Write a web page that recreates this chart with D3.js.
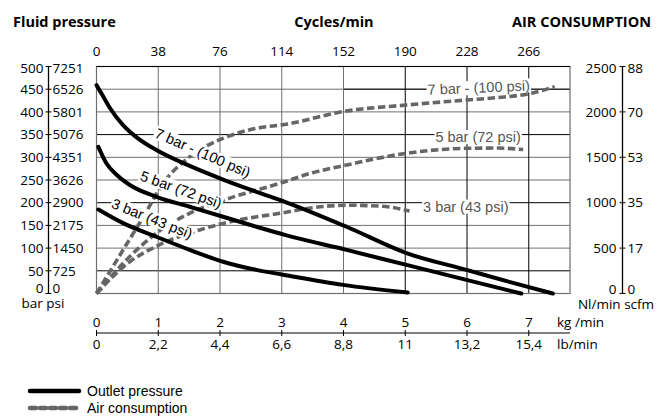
<!DOCTYPE html>
<html><head><meta charset="utf-8">
<script src="https://cdn.jsdelivr.net/npm/d3@7"></script>
<style>
body{margin:0;background:#fff}
svg{display:block}
text{font-family:"Open Sans",sans-serif}
</style></head>
<body><svg id="c" width="665" height="417"></svg>
<script>
// ---- data ----
const kgTicks = [0,1,2,3,4,5,6,7];
const lbLabels = ["0","2,2","4,4","6,6","8,8","11","13,2","15,4"];
const cycleLabels = ["0","38","76","114","152","190","228","266"];
const barTicks = [0,50,100,150,200,250,300,350,400,450,500];
const psiLabels = ["0","725","1450","2175","2900","3626","4351","5076","5801","6526","7251"];
const nlTicks = [0,500,1000,1500,2000,2500];
const scfmLabels = ["0","17","35","53","70","88"];

// outlet pressure [kg/min, bar]
const out7 = [[0,459],[0.1,436],[0.22,408],[0.43,371],[0.65,344],[0.97,316],[1.51,281],[2.05,251],[2.59,224],[3.05,202],[4.05,147],[5.02,89],[5.99,52],[6.7,25],[7.39,0]];
const out5 = [[0.03,323],[0.16,287],[0.33,261],[0.54,239],[0.97,213],[1.51,191],[2.05,169],[2.59,147],[3.05,129],[4.05,96],[5.02,63],[5.99,30],[6.88,0]];
const out3 = [[0.03,185],[0.43,155],[0.97,125],[1.51,96],[2.05,70],[2.59,52],[3.0,42],[3.99,19],[5.04,2]];
// air consumption [kg/min, Nl/min]
const air7 = [[0,0],[0.43,479],[0.76,846],[1.08,1214],[1.51,1507],[2.05,1709],[2.59,1819],[3.05,1862],[4.05,2010],[5.02,2076],[5.99,2131],[6.5,2158],[7.0,2200],[7.42,2278]];
const air5 = [[0,0],[0.5,380],[1.0,680],[1.5,880],[2.16,1050],[2.97,1214],[3.5,1330],[4.05,1415],[5.02,1544],[5.99,1599],[6.5,1602],[6.91,1585]];
const air3 = [[0,0],[0.5,330],[1.0,530],[1.67,700],[2.3,810],[2.97,883],[3.5,945],[4.05,972],[4.6,962],[5.07,909]];

const outLabels = [
  {text:"7 bar - (100 psi)", kg:1.72, bar:310, angle:23.6},
  {text:"5 bar (72 psi)", kg:1.37, bar:229, angle:19.7},
  {text:"3 bar (43 psi)", kg:0.90, bar:165, angle:21.6}
];
const airLabels = [
  {text:"7 bar - (100 psi)", kg:6.19, nl:2268, angle:-2.5},
  {text:"5 bar (72 psi)", kg:6.18, nl:1723, angle:0},
  {text:"3 bar (43 psi)", kg:5.98, nl:958, angle:0}
];

// ---- layout ----
const svg = d3.select("#c");
const L = 96.5, R = 570, T = 66.5, B = 293.5;
const x = d3.scaleLinear().domain([0, (R-L)/61.75]).range([L, R]);
const y = d3.scaleLinear().domain([0, 500]).range([B, T]);
const yAir = d3.scaleLinear().domain([0, 2500]).range([B, T]);
const FS = "13.5px";

const gray = "#6f6f6f";
// grid
const grid = svg.append("g");
barTicks.slice(1, -1).forEach(v => {
  const black = (v === 350 || v === 200 || v === 50);
  grid.append("line").attr("x1", L).attr("x2", R).attr("y1", y(v)).attr("y2", y(v))
    .attr("stroke", black ? "#000" : gray).attr("stroke-width", 1);
});
grid.append("line").attr("x1", x(4)).attr("x2", R).attr("y1", y(450)).attr("y2", y(450))
  .attr("stroke", "#000").attr("stroke-width", 1);
kgTicks.slice(1).forEach(v => {
  grid.append("line").attr("x1", x(v)).attr("x2", x(v)).attr("y1", T).attr("y2", B)
    .attr("stroke", v >= 5 ? "#000" : gray).attr("stroke-width", 1);
});
grid.append("rect").attr("x", L).attr("y", T).attr("width", R-L).attr("height", B-T)
  .attr("fill", "none").attr("stroke", gray).attr("stroke-width", 1.2);
grid.append("line").attr("x1", L).attr("x2", R).attr("y1", T).attr("y2", T).attr("stroke", "#000");

// curves
const line = d3.line().curve(d3.curveMonotoneX);
const curves = svg.append("g");
[air7, air5, air3].forEach(d => {
  curves.append("path").attr("d", line(d.map(p => [x(p[0]), yAir(p[1])])))
    .attr("fill", "none").attr("stroke", "#666").attr("stroke-width", 3.6)
    .attr("stroke-dasharray", "7.5,3.5");
});
[out7, out5, out3].forEach(d => {
  curves.append("path").attr("d", line(d.map(p => [x(p[0]), y(p[1])])))
    .attr("fill", "none").attr("stroke", "#000").attr("stroke-width", 4).attr("stroke-linecap", "round");
});

// curve labels with white backgrounds
function label(px, py, angle, txt, color) {
  const g = svg.append("g").attr("transform", `translate(${px},${py}) rotate(${angle})`);
  const t = g.append("text").attr("text-anchor", "middle").attr("dy", "0.35em")
    .style("font-family", "'Liberation Sans',Arial,sans-serif").style("font-size", "14.5px")
    .attr("fill", color).text(txt);
  const bb = t.node().getBBox();
  g.insert("rect", "text").attr("x", bb.x - 1).attr("y", bb.y + 1).attr("width", bb.width + 2).attr("height", bb.height - 2)
    .attr("fill", "#fff");
}
outLabels.forEach(l => label(x(l.kg), y(l.bar), l.angle, l.text, "#000"));
airLabels.forEach(l => label(x(l.kg), yAir(l.nl), l.angle, l.text, "#555"));

// top cycle labels
svg.append("g").selectAll("text").data(kgTicks).join("text")
  .attr("x", d => x(d)).attr("y", 56).attr("text-anchor", "middle")
  .style("font-size", FS).text((d, i) => cycleLabels[i]);

// left axis
const lx = 48.5;
const la = svg.append("g");
la.append("line").attr("x1", lx).attr("x2", lx).attr("y1", T).attr("y2", B).attr("stroke", "#000").attr("stroke-width", 1.3);
barTicks.forEach((v, i) => {
  const ly = y(v) + (v === 0 ? -5.5 : v === 500 ? 2 : 0);
  la.append("line").attr("x1", lx-3).attr("x2", lx+3).attr("y1", y(v)).attr("y2", y(v)).attr("stroke", "#000");
  la.append("text").attr("x", lx-5).attr("y", ly).attr("dy", "0.35em").attr("text-anchor", "end")
    .style("font-size", FS).text(v);
  la.append("text").attr("x", lx+4).attr("y", ly).attr("dy", "0.35em")
    .style("font-size", FS).text(psiLabels[i]);
});
la.append("text").attr("x", 43).attr("y", 303).attr("dy", "0.35em").attr("text-anchor", "middle")
  .style("font-size", FS).text("bar psi");

// right axis
const rx = 622.5;
const ra = svg.append("g");
ra.append("line").attr("x1", rx).attr("x2", rx).attr("y1", T).attr("y2", B).attr("stroke", "#000").attr("stroke-width", 1.3);
nlTicks.forEach((v, i) => {
  const ly = yAir(v) + (v === 0 ? -4.5 : v === 2500 ? 1.5 : 0);
  ra.append("line").attr("x1", rx-3).attr("x2", rx+3).attr("y1", yAir(v)).attr("y2", yAir(v)).attr("stroke", "#000");
  ra.append("text").attr("x", rx-6).attr("y", ly).attr("dy", "0.35em").attr("text-anchor", "end")
    .style("font-size", FS).text(v);
  ra.append("text").attr("x", rx+5).attr("y", ly).attr("dy", "0.35em")
    .style("font-size", FS).text(scfmLabels[i]);
});
ra.append("text").attr("x", 616).attr("y", 304).attr("dy", "0.35em").attr("text-anchor", "middle")
  .style("font-size", FS).text("Nl/min scfm");

// bottom axis
const by = 333;
const ba = svg.append("g");
ba.append("line").attr("x1", L).attr("x2", R).attr("y1", by).attr("y2", by).attr("stroke", "#000").attr("stroke-width", 1.2);
kgTicks.forEach((v, i) => {
  ba.append("line").attr("x1", x(v)).attr("x2", x(v)).attr("y1", by-3).attr("y2", by+3).attr("stroke", "#000");
  ba.append("text").attr("x", x(v)).attr("y", by-11).attr("dy", "0.35em").attr("text-anchor", "middle")
    .style("font-size", FS).text(v);
  ba.append("text").attr("x", x(v)).attr("y", by+11).attr("dy", "0.35em").attr("text-anchor", "middle")
    .style("font-size", FS).text(lbLabels[i]);
});
ba.append("text").attr("x", 557).attr("y", by-11).attr("dy", "0.35em").style("font-size", FS).text("kg /min");
ba.append("text").attr("x", 557).attr("y", by+11).attr("dy", "0.35em").style("font-size", FS).text("lb/min");

// titles
svg.append("text").attr("x", 13).attr("y", 27).style("font-size", "14.5px").style("font-weight", "bold").text("Fluid pressure");
svg.append("text").attr("x", 334).attr("y", 27).attr("text-anchor", "middle").style("font-size", "14.5px").style("font-weight", "bold").text("Cycles/min");
svg.append("text").attr("x", 651).attr("y", 27).attr("text-anchor", "end").style("font-size", "14.5px").style("font-weight", "bold").text("AIR CONSUMPTION");

// legend
const lg = svg.append("g");
lg.append("line").attr("x1", 30).attr("x2", 79).attr("y1", 391).attr("y2", 391)
  .attr("stroke", "#000").attr("stroke-width", 4.5).attr("stroke-linecap", "round");
lg.append("line").attr("x1", 30).attr("x2", 79).attr("y1", 408).attr("y2", 408)
  .attr("stroke", "#666").attr("stroke-width", 4.5).attr("stroke-linecap", "round").attr("stroke-dasharray", "6,4");
lg.append("text").attr("x", 87).attr("y", 391).attr("dy", "0.35em")
  .style("font-family", "'Liberation Sans',Arial,sans-serif").style("font-size", "14px").text("Outlet pressure");
lg.append("text").attr("x", 87).attr("y", 408).attr("dy", "0.35em")
  .style("font-family", "'Liberation Sans',Arial,sans-serif").style("font-size", "14px").text("Air consumption");
</script></body></html>
